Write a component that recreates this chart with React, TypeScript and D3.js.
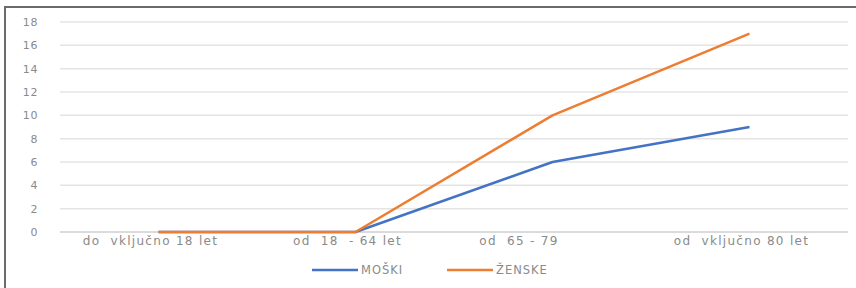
import React, { useEffect, useRef } from 'react';
import * as d3 from 'd3';

const categories = ['do  vključno 18 let', 'od  18  - 64 let', 'od  65 - 79          ', 'od  vključno 80 let'];
const moski = [0, 0, 6, 9];
const zenske = [0, 0, 10, 17];
const yTicks = [0, 2, 4, 6, 8, 10, 12, 14, 16, 18];

const FONT = '"DejaVu Sans", Verdana, sans-serif';

export default function App() {
  const svgRef = useRef<SVGSVGElement>(null);

  useEffect(() => {
    if (!svgRef.current) return;
    const svg = d3.select(svgRef.current);
    svg.selectAll('*').remove();

    const W = 856;
    const H = 288;
    const left = 60;
    const right = 848;
    const top = 22;
    const bottom = 232;

    svg.append('rect').attr('width', W).attr('height', H).attr('fill', '#fff');
    // frame (top + left edge)
    svg.append('line').attr('x1', 5).attr('x2', W).attr('y1', 7).attr('y2', 7)
      .attr('stroke', '#6b6b6b').attr('stroke-width', 2);
    svg.append('line').attr('x1', 5).attr('x2', 5).attr('y1', 6).attr('y2', H)
      .attr('stroke', '#6b6b6b').attr('stroke-width', 2);

    const x = d3.scaleBand().domain(categories).range([left, right]);
    const y = d3.scaleLinear().domain([0, 18]).range([bottom, top]);

    const grid = svg.append('g');
    grid.selectAll('line').data(yTicks).enter().append('line')
      .attr('x1', left).attr('x2', right)
      .attr('y1', d => y(d)).attr('y2', d => y(d))
      .attr('stroke', d => (d === 0 ? '#cfcfcf' : '#e4e4e4')).attr('stroke-width', 1.5);

    svg.append('g').selectAll('text').data(yTicks).enter().append('text')
      .attr('x', 38).attr('y', d => y(d)).attr('dy', '0.35em')
      .attr('text-anchor', 'end')
      .attr('font-family', FONT)
      .attr('font-size', 11).attr('letter-spacing', 0.6).attr('fill', '#8a8a8a')
      .text(d => d);

    svg.append('g').selectAll('text').data(categories).enter().append('text')
      .attr('x', d => x(d)! + x.bandwidth() / 2 - 8).attr('y', 245)
      .attr('text-anchor', 'middle')
      .attr('font-family', FONT)
      .attr('font-size', 12).attr('letter-spacing', 1.3).attr('fill', '#8a8a8a')
      .style('white-space', 'pre')
      .text(d => d);

    const cx = (i: number) => x(categories[i])! + x.bandwidth() / 2;
    const line = d3.line<number>().x((_, i) => cx(i)).y(d => y(d));

    svg.append('path').datum(moski).attr('d', line).attr('fill', 'none')
      .attr('stroke', '#4472C4').attr('stroke-width', 2.5).attr('stroke-linejoin', 'round');
    svg.append('path').datum(zenske).attr('d', line).attr('fill', 'none')
      .attr('stroke', '#ED7D31').attr('stroke-width', 2.5).attr('stroke-linejoin', 'round');

    const legend = [
      { name: 'MOŠKI', color: '#4472C4', x: 312 },
      { name: 'ŽENSKE', color: '#ED7D31', x: 447 },
    ];
    const lg = svg.append('g');
    legend.forEach(l => {
      lg.append('line').attr('x1', l.x).attr('x2', l.x + 46).attr('y1', 270).attr('y2', 270)
        .attr('stroke', l.color).attr('stroke-width', 2.5);
      lg.append('text').attr('x', l.x + 49).attr('y', 270).attr('dy', '0.35em')
        .attr('font-family', FONT)
        .attr('font-size', 11.5).attr('letter-spacing', 1).attr('fill', '#8a8a8a')
        .text(l.name);
    });
  }, []);

  return (
    <svg ref={svgRef} width={856} height={288}
      style={{ position: 'absolute', left: 0, top: 0, display: 'block' }} />
  );
}
